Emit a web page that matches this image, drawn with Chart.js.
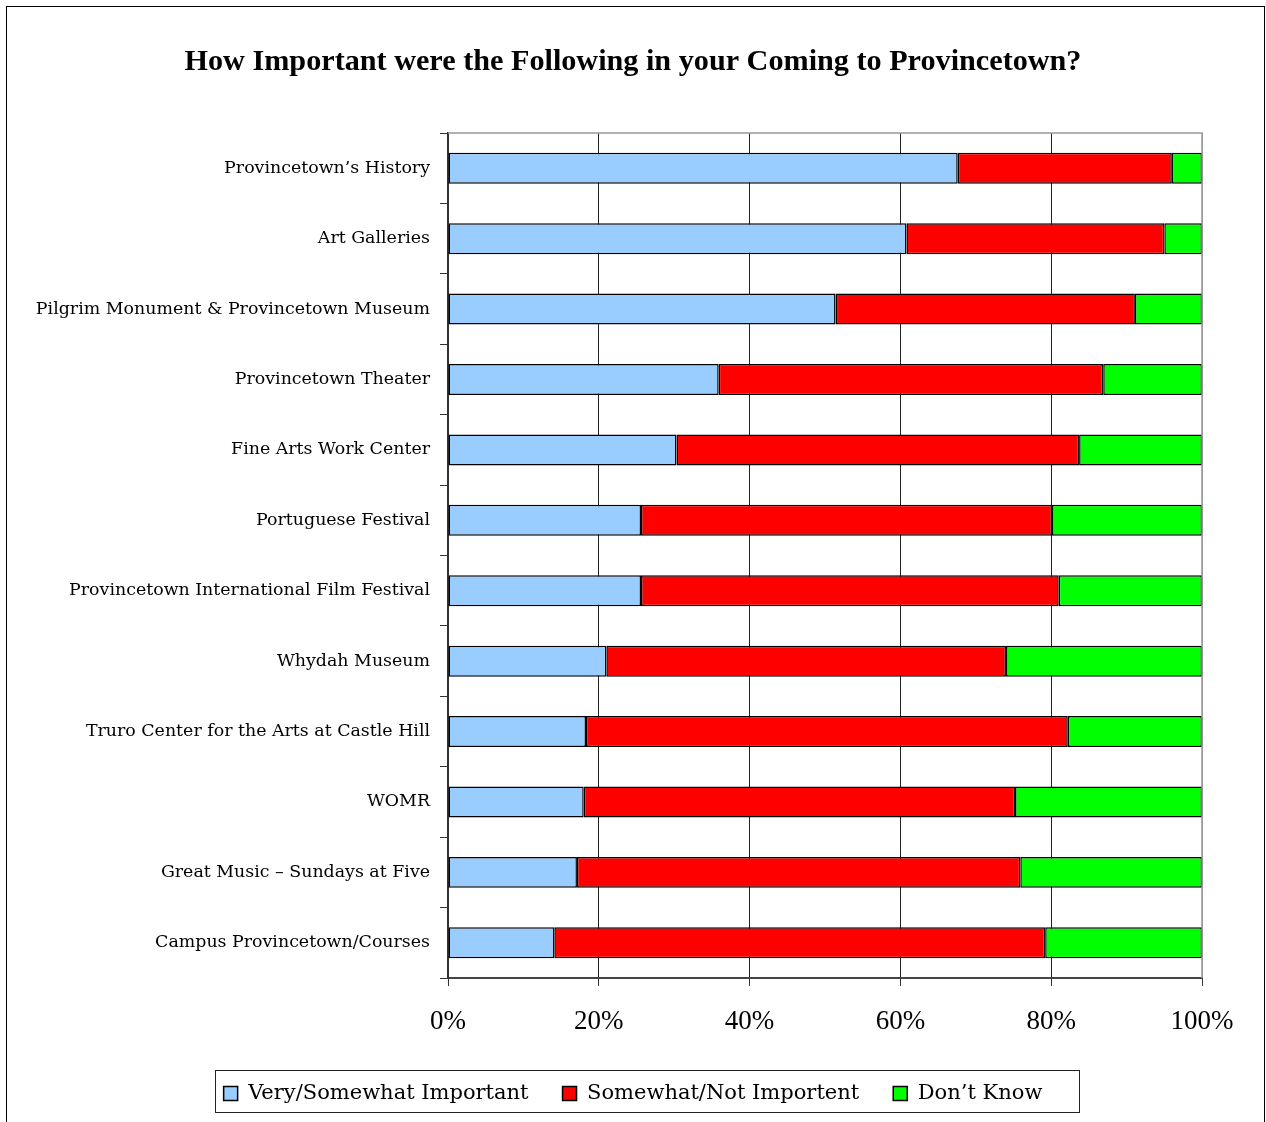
<!DOCTYPE html>
<html>
<head>
<meta charset="utf-8">
<script src="https://cdn.jsdelivr.net/npm/chart.js@4.4.1/dist/chart.umd.min.js"></script>
<style>
  html, body { margin: 0; padding: 0; background: #fff; }
  canvas { display: block; }
</style>
</head>
<body>
<canvas id="grafico" width="1266" height="1122"></canvas>
<script>
// Datos (porcentajes)
const categorias = [
  "Provincetown\u2019s History",
  "Art Galleries",
  "Pilgrim Monument & Provincetown Museum",
  "Provincetown Theater",
  "Fine Arts Work Center",
  "Portuguese Festival",
  "Provincetown International Film Festival",
  "Whydah Museum",
  "Truro Center for the Arts at Castle Hill",
  "WOMR",
  "Great Music \u2013 Sundays at Five",
  "Campus Provincetown/Courses"
];
const importante = [67.6, 60.8, 51.4, 35.9, 30.3, 25.6, 25.6, 21.0, 18.3, 18.0, 17.1, 14.1];
const noImportante = [28.4, 34.2, 39.7, 51.0, 53.4, 54.5, 55.4, 53.0, 63.9, 57.2, 58.8, 65.1];
const noSabe = [4.0, 5.0, 8.9, 13.1, 16.3, 19.9, 19.0, 26.0, 17.8, 24.8, 24.1, 20.8];
const ticksX = [0, 20, 40, 60, 80, 100];

const series = ["Very/Somewhat Important", "Somewhat/Not Importent", "Don\u2019t Know"];
const colores = ['#99ccff', '#ff0000', '#00ff00'];

// marco exterior, borde del área y recuadro de la leyenda
const marcos = {
  id: 'marcos',
  afterLayout(chart) {
    // que las etiquetas largas del eje Y no se recorten
    chart.scales.y.left = 0;
  },
  afterDraw(chart) {
    const ctx = chart.ctx;
    const a = chart.chartArea;
    ctx.save();
    ctx.strokeStyle = '#999';
    ctx.lineWidth = 1.5;
    ctx.beginPath();
    ctx.moveTo(a.left, a.top);
    ctx.lineTo(a.right, a.top);
    ctx.lineTo(a.right, a.bottom);
    ctx.stroke();

    ctx.strokeStyle = '#000';
    ctx.lineWidth = 1;
    ctx.strokeRect(6.5, 6.5, 1258, 1130);

    const lg = chart.legend;
    if (lg && lg.legendHitBoxes.length) {
      const cajas = lg.legendHitBoxes;
      const x0 = cajas[0].left - 9;
      const last = cajas[cajas.length - 1];
      const x1 = last.left + last.width + 36;
      ctx.strokeStyle = '#222';
      ctx.lineWidth = 1;
      ctx.strokeRect(Math.round(x0) + 0.5, 1070.5, Math.round(x1 - x0), 42);
    }
    ctx.restore();
  }
};

const ctx = document.getElementById('grafico').getContext('2d');
new Chart(ctx, {
  type: 'bar',
  data: {
    labels: categorias,
    datasets: [importante, noImportante, noSabe].map((valores, i) => ({
      label: series[i],
      data: valores,
      backgroundColor: colores[i],
      borderColor: '#000',
      borderWidth: 1.5,
      borderSkipped: false,
      categoryPercentage: 1,
      barPercentage: 0.44
    }))
  },
  plugins: [marcos],
  options: {
    indexAxis: 'y',
    responsive: false,
    animation: false,
    layout: { padding: { left: 64, right: 64, top: 0, bottom: 8 } },
    plugins: {
      title: {
        display: true,
        text: 'How Important were the Following in your Coming to Provincetown?',
        color: '#000',
        font: { family: 'Liberation Serif', size: 30.2, weight: 'bold', lineHeight: 1.2 },
        padding: { top: 44, bottom: 52.8 }
      },
      legend: {
        position: 'bottom',
        labels: {
          color: '#000',
          font: { family: 'DejaVu Serif', size: 21 },
          boxWidth: 14,
          boxHeight: 14,
          padding: 34,
          generateLabels(chart) {
            return chart.data.datasets.map((ds, i) => ({
              text: ds.label,
              fillStyle: ds.backgroundColor,
              strokeStyle: '#000',
              lineWidth: 1.5,
              datasetIndex: i,
              fontColor: '#000'
            }));
          }
        }
      },
      tooltip: { enabled: false }
    },
    scales: {
      x: {
        stacked: true,
        min: 0,
        max: 100,
        afterBuildTicks(scale) {
          scale.ticks = ticksX.map(v => ({ value: v }));
        },
        afterFit(scale) { scale.height = 71; },
        ticks: {
          color: '#000',
          font: { family: 'Liberation Serif', size: 27 },
          padding: 20,
          callback: v => v + '%'
        },
        grid: {
          color: ctx => ctx.index === 5 ? '#999' : '#222',
          lineWidth: 1,
          drawTicks: true,
          tickLength: 8,
          tickColor: '#333'
        },
        border: { display: true, color: '#444', width: 2 }
      },
      y: {
        stacked: true,
        afterFit(scale) { scale.width = 384; },
        ticks: {
          color: '#000',
          font: { family: 'DejaVu Serif', size: 17.4 },
          padding: 10,
          autoSkip: false
        },
        grid: {
          offset: true,
          drawOnChartArea: false,
          drawTicks: true,
          tickLength: 8,
          color: '#333'
        },
        border: { display: true, color: '#333', width: 2 }
      }
    }
  }
});
</script>
</body>
</html>
